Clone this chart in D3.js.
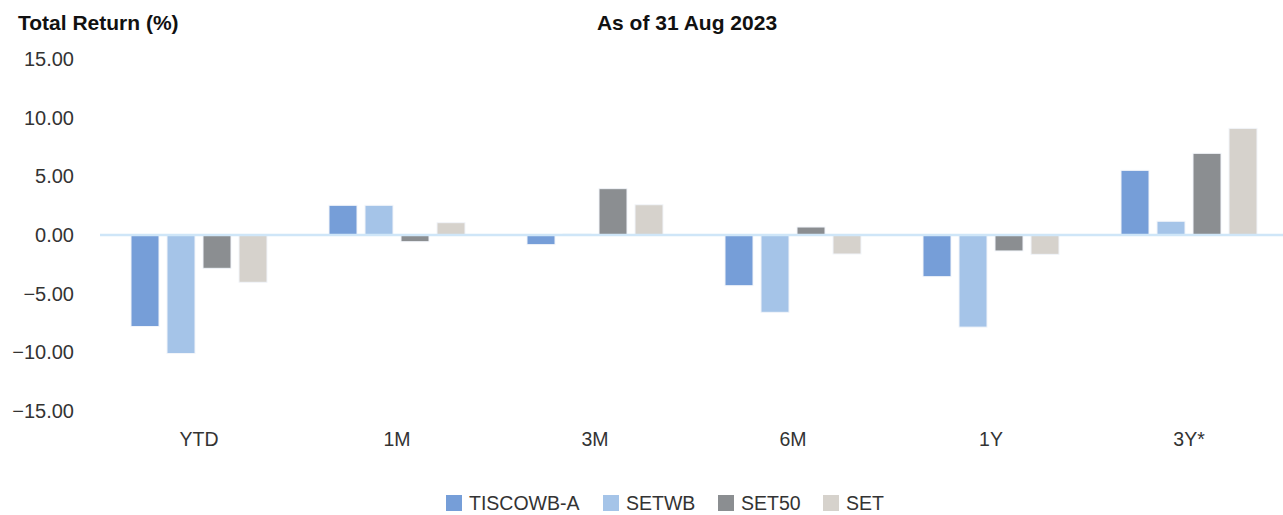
<!DOCTYPE html>
<html>
<head>
<meta charset="utf-8">
<script src="https://cdn.jsdelivr.net/npm/d3@7"></script>
<style>
  body { margin: 0; background: #fff; }
  svg { display: block; font-family: "Liberation Sans", Arial, Helvetica, sans-serif; }
</style>
</head>
<body>
<svg id="chart" width="1283" height="515"></svg>
<script>
// values
const categories = ["YTD", "1M", "3M", "6M", "1Y", "3Y*"];
const seriesNames = ["TISCOWB-A", "SETWB", "SET50", "SET"];
const tiscowb = [-7.8, 2.53, -0.82, -4.32, -3.55, 5.51];
const setwb = [-10.1, 2.53, 0.08, -6.59, -7.85, 1.17];
const set50 = [-2.84, -0.57, 3.95, 0.68, -1.36, 6.96];
const setIdx = [-4.03, 1.05, 2.58, -1.62, -1.65, 9.09];
const yTicks = [15, 10, 5, 0, -5, -10, -15];
const colors = ["#769ed8", "#a5c4e8", "#8b8e91", "#d6d2cc"];

const allSeries = [tiscowb, setwb, set50, setIdx];
const rows = [];
categories.forEach((c, i) => {
  seriesNames.forEach((s, j) => rows.push({ cat: c, series: s, value: allSeries[j][i] }));
});

const svg = d3.select("#chart");

const x0 = d3.scaleBand().domain(categories).range([100, 1288]);
const x1 = d3.scaleBand().domain(seriesNames)
  .range([0, 144]).paddingInner(0.2222).paddingOuter(0.1111);
const y = d3.scaleLinear().domain([-15, 15]).range([411, 59]);
const color = d3.scaleOrdinal().domain(seriesNames).range(colors);

// titles
svg.append("text").attr("x", 18).attr("y", 30)
  .style("font-size", "21px").style("font-weight", "bold").style("fill", "#111")
  .text("Total Return (%)");
svg.append("text").attr("x", 687).attr("y", 30).attr("text-anchor", "middle")
  .style("font-size", "21px").style("font-weight", "bold").style("fill", "#111")
  .text("As of 31 Aug 2023");

// y axis labels
const yAxis = svg.append("g").attr("transform", "translate(74,0)")
  .call(d3.axisLeft(y).tickValues(yTicks).tickSize(0).tickPadding(0).tickFormat(d3.format(".2f")));
yAxis.select(".domain").remove();
yAxis.selectAll("text")
  .style("font-size", "20px").style("fill", "#333").style("font-family", "inherit");

// x axis labels
const xAxis = svg.append("g").attr("transform", "translate(0,432)")
  .call(d3.axisBottom(x0).tickSize(0).tickPadding(0));
xAxis.select(".domain").remove();
xAxis.selectAll("text")
  .style("font-size", "19.5px").style("fill", "#333").style("font-family", "inherit");

// bars
svg.append("g").selectAll("rect")
  .data(rows)
  .join("rect")
  .attr("x", (d) => x0(d.cat) + x0.bandwidth() / 2 - 72 + x1(d.series))
  .attr("y", (d) => y(Math.max(0, d.value)))
  .attr("width", x1.bandwidth())
  .attr("height", (d) => Math.abs(y(d.value) - y(0)))
  .style("fill", (d) => color(d.series))
  .style("stroke", "#f2f5fa")
  .style("stroke-width", 1);

// zero line on top
svg.append("line")
  .attr("x1", 100).attr("x2", 1283)
  .attr("y1", y(0)).attr("y2", y(0))
  .style("stroke", "#cfe6f8").style("stroke-width", 2.5);

// legend
const legendX = [446, 603, 718, 823];
const legend = svg.append("g").selectAll("g")
  .data(seriesNames)
  .join("g")
  .attr("transform", (d, i) => `translate(${legendX[i]},495)`);
legend.append("rect").attr("width", 16).attr("height", 16)
  .style("fill", (d) => color(d));
legend.append("text").attr("x", 23).attr("y", 15)
  .style("font-size", "19.5px").style("fill", "#333")
  .text((d) => d);
</script>
</body>
</html>
